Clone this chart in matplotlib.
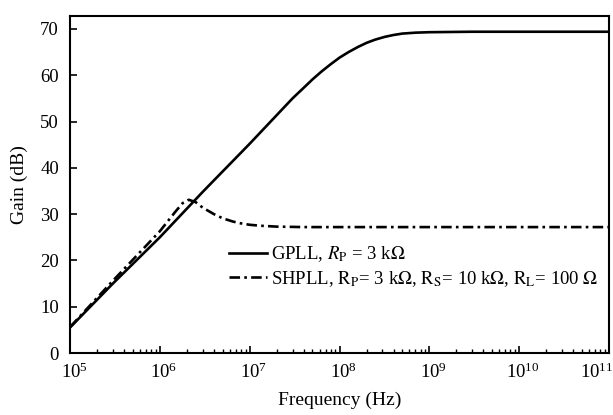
import matplotlib
matplotlib.use("Agg")
import matplotlib.pyplot as plt
from matplotlib.ticker import LogLocator
from matplotlib.transforms import ScaledTranslation

plt.rcParams['font.family'] = ['Liberation Serif', 'DejaVu Serif']
plt.rcParams['mathtext.fontset'] = 'stix'
plt.rcParams['font.size'] = 12

# data
gpll_freq = [1e5, 3e5, 1e6, 3e6, 1e7, 3e7, 4e7, 5e7, 6.3e7, 8e7, 1e8, 1.26e8, 1.6e8, 2e8, 2.5e8,
             3.2e8, 4e8, 5e8, 7e8, 1e9, 3e9, 1e10, 1e11]
gpll_gain = [5.5, 15.0, 25.0, 34.8, 45.2, 55.0, 57.3, 59.1, 60.8, 62.4, 63.8, 65.0, 66.1, 67.0, 67.7,
             68.3, 68.7, 69.0, 69.2, 69.3, 69.4, 69.4, 69.4]

shpll_freq = [1e5, 3e5, 1e6, 1.5e6, 1.8e6, 2.1e6, 2.5e6, 3e6, 4e6, 5e6, 6.5e6, 8e6, 1e7, 1.3e7, 2e7, 4e7, 1e8, 1e11]
shpll_gain = [5.6, 15.6, 26.3, 30.6, 32.4, 33.1, 32.6, 31.4, 30.0, 29.1, 28.4, 28.0, 27.7, 27.5, 27.3, 27.2, 27.2, 27.2]

x_ticks = [1e5, 1e6, 1e7, 1e8, 1e9, 1e10, 1e11]
y_ticks = [0, 10, 20, 30, 40, 50, 60, 70]

gpll_label = r'GPLL, $R_\mathrm{P}$ = 3 k$\Omega$'
shpll_label = r'SHPLL, $\mathrm{R_P}$= 3 k$\Omega$, $\mathrm{R_S}$= 10 k$\Omega$, $\mathrm{R_L}$= 100 $\Omega$'

fig = plt.figure(figsize=(6.13, 4.15), dpi=100)
ax = fig.add_axes([70/613, 1-353/415, 539/613, 337/415])

ax.plot(gpll_freq, gpll_gain, color='black', lw=1.9, label=gpll_label)
ax.plot(shpll_freq, shpll_gain, color='black', lw=1.9, dashes=(4, 1.6, 1, 1.6), label=shpll_label)

ax.set_xscale('log')
ax.set_xlim(1e5, 1e11)
ax.set_ylim(0, 72.8)
ax.set_xticks(x_ticks)
ax.set_yticks(y_ticks)
ax.xaxis.set_minor_locator(LogLocator(base=10, subs=range(2, 10), numticks=100))
ax.tick_params(which='major', direction='in', length=5, width=1.2, top=False, right=False, labelsize=13.5)
ax.tick_params(which='minor', direction='in', length=3, width=1.0, top=False, right=False)
ax.tick_params(axis='x', pad=7)
ax.tick_params(axis='y', pad=8)
for s in ax.spines.values():
    s.set_linewidth(1.5)

# labels sit a little right of their ticks; the last one is pulled in to fit
for loc, tick in zip(x_ticks, ax.xaxis.get_major_ticks()):
    dx = -12 if loc > 5e10 else 4
    tick.label1.set_transform(tick.label1.get_transform() + ScaledTranslation(dx/100, 0, fig.dpi_scale_trans))

ax.set_xlabel('Frequency (Hz)', fontsize=14, labelpad=7)
ax.set_ylabel('Gain (dB)', fontsize=14, labelpad=9)

ax.legend(loc='upper left', bbox_to_anchor=(0.282, 0.345), frameon=False, fontsize=13.5,
          handlelength=2.0, handletextpad=0.2, labelspacing=0.25, borderaxespad=0)

fig.savefig('out.png', dpi=100)
